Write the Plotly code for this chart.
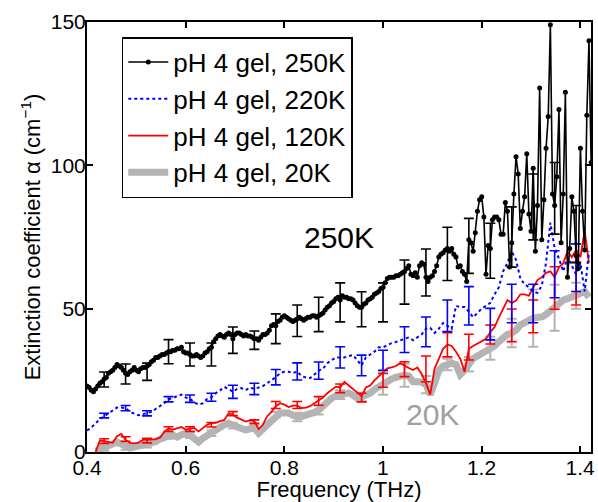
import numpy as np
import plotly.graph_objects as go

# Frequency grids (THz): the 250K scan is sampled twice as densely as the others
F0 = 0.4
STEP_FINE = 0.00435
STEP = 0.0087

# Extinction coefficient (cm^-1), pH 4 gel at 250K
alpha_250 = [
    23, 22.5, 21.5, 21, 22, 23, 24, 24.5, 25.5, 26,
    27.5, 28, 28.5, 29.5, 30.5, 30, 29.5, 28.5, 27.5, 27,
    28, 28.5, 29.5, 28.5, 28, 29, 29.5, 29.5, 30, 30.5,
    31.5, 32, 33, 33, 33.5, 34, 34, 34.5, 35, 35,
    35.5, 35.5, 36, 36, 36.5, 35, 34.5, 34.5, 34, 33.5,
    33.5, 34, 33.5, 33, 33.5, 34.5, 35, 36, 36.5, 38.5,
    39.5, 40.5, 41, 40.5, 40, 41, 41.5, 41, 39.5, 41,
    41.5, 41.5, 41, 40.5, 41, 40.5, 40.5, 40, 39.5, 39.5,
    39, 40, 41, 41, 41.5, 42.5, 44, 44.5, 44, 45.5,
    46, 47, 47.5, 47, 46.5, 46, 45.5, 46, 46.5, 47,
    46.5, 46, 46.5, 47, 47, 47.5, 47.5, 47, 47.5, 48,
    48.5, 49.5, 50.5, 51, 52, 52.5, 53.5, 54, 53, 54.5,
    54, 54, 53.5, 53.5, 53, 52, 51, 50.5, 50.5, 51.5,
    52, 53, 53.5, 54, 55, 55.5, 56, 57, 57.5, 59,
    60.5, 61, 61, 61, 61.5, 61.5, 62, 62.5, 63, 64,
    65, 62, 61.5, 62.5, 61, 65, 66, 65.5, 61, 59.5,
    61, 61.5, 63, 65, 68, 69, 69.5, 70.5, 71, 70,
    71, 69, 68, 64.5, 65, 63, 62, 59.5, 74, 73,
    70, 76.5, 84, 88, 89, 82, 62, 72, 71, 81,
    82, 82, 81, 76, 76, 87, 84, 64.5, 73, 90,
    103, 97, 78, 84, 89, 104, 83, 77, 99, 70,
    86, 127, 74, 88, 106, 117, 149, 90, 86, 96,
    119.5, 73, 90, 125.5, 61, 71, 89, 84, 68.5, 64,
    106, 84, 70.5, 117.5, 143.5, 101,
]

# pH 4 gel at 220K
alpha_220 = [
    7.5, 8.5, 10, 11.5, 12.5, 13.5, 14.5, 15.5, 15.5, 15.3,
    14, 13.3, 12.8, 13.2, 13.5, 14, 15, 16, 17, 18.4,
    18.8, 19.5, 20, 19, 18.6, 17.3, 16.5, 17, 18.5, 19.1,
    20.5, 21.5, 22.7, 22, 21, 22, 22.3, 21.6, 22.5, 22,
    22.5, 23, 24, 25, 26.1, 27.5, 28, 28, 27.5, 28.1,
    26.5, 26, 25.8, 27, 28.4, 29, 31, 32, 33, 33,
    33, 33.5, 33.8, 32, 30.2, 33, 34, 35, 36.5, 36.5,
    37.3, 38, 38.4, 39, 39.5, 40, 39, 40, 41, 43,
    43.3, 41.5, 43, 45, 44, 43, 51, 50.5, 50.6, 49,
    47, 48.5, 50, 51, 52, 55, 57.5, 63, 66, 70,
    67, 60.5, 58.5, 57.5, 56, 55.5, 58, 66, 80, 71,
    67.5, 63, 68, 65, 62, 66, 56, 70,
]

# pH 4 gel at 120K (None where the trace has not started)
alpha_120 = [
    None, None, 0, 4, 3.8, 3.5, 3.2, 5.5, 6.3, 4.2,
    3.2, 3, 3.3, 4.2, 4.2, 4.3, 4.5, 5, 7, 8.2,
    7.8, 8.3, 8.7, 7.8, 8, 8.4, 7.2, 8.2, 9.5, 10.1,
    10.2, 10.8, 11.2, 13.5, 13, 12, 11.2, 10.6, 11, 10.8,
    8, 9.5, 12.5, 14, 16, 17, 16.5, 15.7, 16.2, 16.2,
    15.3, 15.5, 16, 17, 18, 19, 20.5, 21.8, 22.8, 22.5,
    24.5, 23.2, 22, 21, 19.5, 22.5, 23.2, 25, 26.5, 27.8,
    29.2, 29.5, 30, 31, 30, 29.3, 28.6, 29.5, 27.2, 24,
    20, 29, 32.5, 36, 37.5, 37, 35, 32.5, 28, 36,
    37, 37.8, 38.5, 39.5, 41.8, 43.6, 47, 50, 53, 52,
    52.8, 55, 55, 54.5, 57, 60, 61, 62.5, 63, 61,
    64.5, 65.8, 70, 68, 70.5, 68, 77, 66,
]

# pH 4 gel at 20K
alpha_20 = [
    None, None, 0.3, 1, 1.4, 2.2, 3.1, 3.5, 2.8, 1.8,
    1.4, 1.7, 2, 2.3, 2.6, 3.2, 3.6, 4.5, 5.2, 5.6,
    5.9, 5.2, 6, 6.5, 5.9, 4.5, 3.5, 4.8, 5.8, 6.6,
    7.5, 8.3, 9.5, 10, 9.2, 8.7, 8.2, 7.7, 8.2, 8.4,
    6.6, 8, 9.7, 11.5, 13, 13.6, 13.6, 13.6, 12.8, 12.2,
    12.4, 12.8, 13, 13.8, 14.6, 16, 17.8, 18.8, 19.5, 20,
    20.4, 20.6, 19.8, 18.8, 19.2, 19.8, 20.5, 21.8, 22.8, 24,
    25, 25.5, 26, 26.4, 26.8, 26.5, 24.5, 24.5, 24.4, 23.5,
    20, 24, 28.4, 30, 30.5, 31, 30.5, 27, 28.5, 30.6,
    32.6, 33.5, 34.4, 35, 36.2, 37, 38.5, 40.2, 41, 41.5,
    42.5, 44.3, 45.3, 46.2, 46.7, 47, 47.1, 48, 49.2, 50.3,
    52, 53, 53.5, 54, 54.5, 55.3, 56, 54,
]

# Error bars: centre and half-width, one every 0.0435 THz starting at 0.4348 THz
BAR_F0 = 0.4348
BAR_STEP = 0.0435
bar_250_c = [25.3, 27.2, 28, 35, 34, 34, 39, 39, 43, 45.8, 48, 52.2,
             49.8, 52.2, 59.3, 62.6, 69.1, 71.9, 70.2, 75, 85.5, 88.5, 76]
bar_250_e = [2.6, 3.5, 3, 4.2, 4, 4, 4.6, 3.2, 5.2, 5.5, 6, 6.8,
             6.1, 6.8, 7.7, 8.2, 9.3, 9.6, 9.6, 10.5, 11.5, 12.5, 10]
bar_220_c = [12.7, 15.3, 13.5, 18.4, 18.6, 19.1, 21, 22, 26.1, 28.1, 28.4, 33,
             30.2, 32, 39.2, 41.9, 47.5, 51, 44.6, 51.8, 51.8, 62, 64.3]
bar_220_e = [0.8, 0.9, 0.9, 0.9, 1.3, 1.4, 2.3, 2, 2.7, 3, 3, 3.7,
             3.6, 3.5, 4.5, 5.2, 5.5, 6.7, 5.5, 6.7, 6.7, 8.2, 8.3]
bar_120_c = [3.8, 4.5, 4, 8, 8, 9.5, 13.4, 10.6, 16.4, 16.4, 17.8, 22.2,
             19, 25, 28.9, 29, 37.4, 36.6, 41, 44.2, 47.3, 57.2, 58.8]
bar_120_e = [0.8, 0.8, 0.8, 0.8, 0.8, 0.8, 0.7, 0.6, 1.2, 1.2, 1.5, 1.5,
             1.5, 2.4, 2.6, 4.5, 4.2, 4.5, 3.3, 5.7, 5.7, 7.4, 7.5]
bar_20_c = [1.4, 1.8, 2.6, 5.6, 5.9, 6.6, 9.2, 8.4, 13, 12.2, 14.6, 20,
            19.2, 24, 26.8, 23.5, 30.5, 30.6, 36.2, 41.5, 46.7, 50.3, 54.5]
bar_20_e = [1, 1, 1, 1, 1, 1, 1, 1, 1, 1.5, 1.5, 1.5,
            1.5, 4, 4, 3, 2, 2.5, 4, 5, 10, 8, 4.5]

legend_names = ["pH 4 gel, 250K", "pH 4 gel, 220K", "pH 4 gel, 120K", "pH 4 gel, 20K"]

f_fine = np.round(F0 + STEP_FINE * np.arange(len(alpha_250)), 5)
f_std = np.round(F0 + STEP * np.arange(len(alpha_220)), 5)
f_bar = np.round(BAR_F0 + BAR_STEP * np.arange(len(bar_250_c)), 5)

BLACK = "#000000"
BLUE = "#0000ff"
RED = "#ff0000"
GREY = "#b4b4b4"

fig = go.Figure()


def add_bars(center, err, color, thick=1.6):
    fig.add_trace(go.Scatter(
        x=f_bar, y=center, mode="markers",
        marker=dict(size=2, color="rgba(0,0,0,0)"),
        error_y=dict(type="data", array=err, visible=True,
                     color=color, thickness=thick, width=5),
        showlegend=False, hoverinfo="skip",
    ))


# 20K: thick grey line
add_bars(bar_20_c, bar_20_e, GREY, 2)
fig.add_trace(go.Scatter(x=f_std, y=alpha_20, mode="lines", name=legend_names[3],
                         line=dict(color=GREY, width=7), connectgaps=False))
# 120K: red solid
add_bars(bar_120_c, bar_120_e, RED)
fig.add_trace(go.Scatter(x=f_std, y=alpha_120, mode="lines", name=legend_names[2],
                         line=dict(color=RED, width=1.8), connectgaps=False))
# 220K: blue dotted
add_bars(bar_220_c, bar_220_e, BLUE)
fig.add_trace(go.Scatter(x=f_std, y=alpha_220, mode="lines", name=legend_names[1],
                         line=dict(color=BLUE, width=2, dash="dot")))
# 250K: black line with dots
add_bars(bar_250_c, bar_250_e, BLACK)
fig.add_trace(go.Scatter(x=f_fine, y=alpha_250, mode="lines+markers", name=legend_names[0],
                         line=dict(color=BLACK, width=1.6),
                         marker=dict(color=BLACK, size=5)))

fig.add_annotation(x=0.91, y=75, text="250K", showarrow=False,
                   font=dict(size=30, color=BLACK), xanchor="center", yanchor="middle")
fig.add_annotation(x=1.101, y=13.2, text="20K", showarrow=False,
                   font=dict(size=30, color="#a0a0a0"), xanchor="center", yanchor="middle")

axis_common = dict(
    showline=True, linecolor=BLACK, linewidth=2, mirror="ticks",
    ticks="inside", ticklen=6, tickwidth=1.5, tickcolor=BLACK,
    showgrid=False, zeroline=False,
    tickfont=dict(size=21, color=BLACK),
)

fig.update_xaxes(range=[0.4, 1.422], tickvals=[0.4, 0.6, 0.8, 1.0, 1.2, 1.4],
                 ticktext=["0.4", "0.6", "0.8", "1", "1.2", "1.4"],
                 ticklabelstandoff=-4,
                 title=dict(text="Frequency (THz)", font=dict(size=22, color=BLACK), standoff=0),
                 **axis_common)
fig.update_yaxes(range=[0, 150], tickvals=[0, 50, 100, 150],
                 ticklabelstandoff=-5,
                 title=dict(text="Extinction coefficient α (cm<sup>−1</sup>)",
                            font=dict(size=22, color=BLACK), standoff=4),
                 **axis_common)

fig.update_layout(
    width=598, height=502,
    margin=dict(l=87, r=3, t=22, b=50),
    paper_bgcolor="white", plot_bgcolor="white",
    font=dict(family="Liberation Sans, Arial, sans-serif", color=BLACK),
    legend=dict(x=0.069, y=0.965, xanchor="left", yanchor="top",
                traceorder="reversed", bgcolor="white",
                bordercolor=BLACK, borderwidth=1.5,
                font=dict(size=26, color=BLACK), itemwidth=40),
    showlegend=True,
)

fig.write_html("out.html")
